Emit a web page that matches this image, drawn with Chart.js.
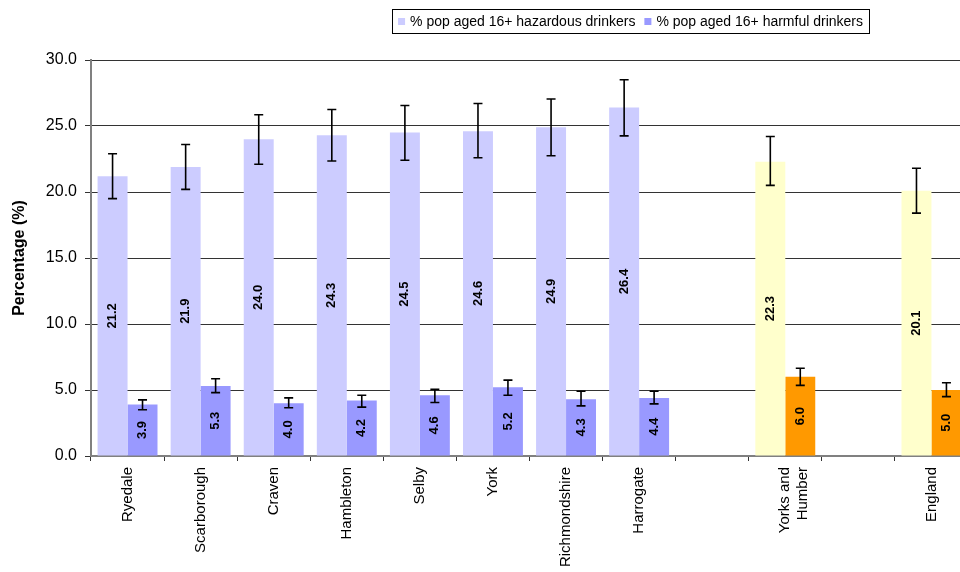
<!DOCTYPE html>
<html>
<head>
<meta charset="utf-8">
<title>Hazardous and harmful drinkers</title>
<script src="https://cdn.jsdelivr.net/npm/chart.js@4/dist/chart.umd.min.js"></script>
<style>
  html, body { margin: 0; padding: 0; background: #fff; overflow: hidden; }
  #wrap { width: 970px; height: 572px; }
</style>
</head>
<body>
<div id="wrap"><canvas id="chart" width="970" height="572"></canvas></div>
<script>
// categories ('' = spacer column)
const categories = ['Ryedale', 'Scarborough', 'Craven', 'Hambleton', 'Selby', 'York',
  'Richmondshire', 'Harrogate', '', ['Yorks and', 'Humber'], '', 'England'];
const comparators = ['Yorks and Humber', 'England'];

const hazardous = [21.2, 21.9, 24.0, 24.3, 24.5, 24.6, 24.9, 26.4, null, 22.3, null, 20.1];
const hazardousLow = [19.5, 20.2, 22.1, 22.35, 22.4, 22.6, 22.75, 24.25, null, 20.5, null, 18.4];
const hazardousHigh = [22.9, 23.6, 25.85, 26.25, 26.55, 26.7, 27.05, 28.5, null, 24.2, null, 21.8];

const harmful = [3.9, 5.3, 4.0, 4.2, 4.6, 5.2, 4.3, 4.4, null, 6.0, null, 5.0];
const harmfulLow = [3.5, 4.8, 3.65, 3.7, 4.05, 4.6, 3.8, 3.95, null, 5.35, null, 4.5];
const harmfulHigh = [4.25, 5.85, 4.4, 4.6, 5.05, 5.75, 4.9, 4.9, null, 6.65, null, 5.55];

const yTicks = [0, 5, 10, 15, 20, 25, 30];

const FONT = '"Liberation Sans", Arial, sans-serif';

const isComparator = (i) => {
  const c = categories[i];
  return comparators.includes(Array.isArray(c) ? c.join(' ') : c);
};

// error bars drawn from the low/high arrays through the y scale
const errorBars = {
  id: 'errorBars',
  afterDatasetsDraw(chart) {
    const ctx = chart.ctx;
    const y = chart.scales.y;
    chart.data.datasets.forEach((ds, di) => {
      const meta = chart.getDatasetMeta(di);
      meta.data.forEach((bar, i) => {
        if (ds.data[i] == null) return;
        const top = y.getPixelForValue(ds.errHigh[i]);
        const bot = y.getPixelForValue(ds.errLow[i]);
        ctx.save();
        ctx.strokeStyle = '#000';
        ctx.lineWidth = 1.6;
        ctx.beginPath();
        ctx.moveTo(bar.x, top); ctx.lineTo(bar.x, bot);
        ctx.moveTo(bar.x - 4.5, top); ctx.lineTo(bar.x + 4.5, top);
        ctx.moveTo(bar.x - 4.5, bot); ctx.lineTo(bar.x + 4.5, bot);
        ctx.stroke();
        ctx.restore();
      });
    });
  }
};

// rotated value labels in the middle of each bar
const valueLabels = {
  id: 'valueLabels',
  afterDatasetsDraw(chart) {
    const ctx = chart.ctx;
    chart.data.datasets.forEach((ds, di) => {
      const meta = chart.getDatasetMeta(di);
      meta.data.forEach((bar, i) => {
        const v = ds.data[i];
        if (v == null) return;
        ctx.save();
        ctx.translate(bar.x, (bar.y + bar.base) / 2);
        ctx.rotate(-Math.PI / 2);
        ctx.font = 'bold 13px ' + FONT;
        ctx.fillStyle = '#000';
        ctx.textAlign = 'center';
        ctx.textBaseline = 'middle';
        ctx.fillText(v.toFixed(1), 0, 0);
        ctx.restore();
      });
    });
  }
};

// boxed legend at the top right
const boxLegend = {
  id: 'boxLegend',
  afterDraw(chart) {
    const ctx = chart.ctx;
    ctx.save();
    ctx.font = '14px ' + FONT;
    const items = chart.data.datasets.map(ds => ({ text: ds.label, color: ds.legendColor }));
    const sq = 7, padL = 6, gapSq = 5, gapItem = 9, padR = 6;
    let w = padL + padR;
    items.forEach((it, k) => {
      w += sq + gapSq + ctx.measureText(it.text).width + (k ? gapItem : 0);
    });
    const right = 869, top = 9, h = 24;
    const left = right - w;
    ctx.strokeStyle = '#000';
    ctx.lineWidth = 1;
    ctx.strokeRect(Math.round(left) + 0.5, top + 0.5, Math.round(w), h);
    let x = left + padL;
    const cy = top + h / 2 + 0.5;
    items.forEach((it, k) => {
      if (k) x += gapItem;
      ctx.fillStyle = it.color;
      ctx.fillRect(x, cy - sq / 2, sq, sq);
      x += sq + gapSq;
      ctx.fillStyle = '#000';
      ctx.textBaseline = 'middle';
      ctx.fillText(it.text, x, cy + 1);
      x += ctx.measureText(it.text).width;
    });
    ctx.restore();
  }
};

new Chart(document.getElementById('chart'), {
  type: 'bar',
  data: {
    labels: categories,
    datasets: [
      {
        label: '% pop aged 16+ hazardous drinkers',
        data: hazardous,
        errLow: hazardousLow,
        errHigh: hazardousHigh,
        legendColor: '#CCCCFF',
        backgroundColor: (c) => isComparator(c.dataIndex) ? '#FFFFCC' : '#CCCCFF'
      },
      {
        label: '% pop aged 16+ harmful drinkers',
        data: harmful,
        errLow: harmfulLow,
        errHigh: harmfulHigh,
        legendColor: '#9999FF',
        backgroundColor: (c) => isComparator(c.dataIndex) ? '#FF9900' : '#9999FF'
      }
    ]
  },
  options: {
    responsive: false,
    animation: false,
    devicePixelRatio: 1,
    layout: { padding: { top: 60, left: 0, right: 2, bottom: 0 } },
    datasets: { bar: { categoryPercentage: 0.82, barPercentage: 1.0, borderWidth: 0 } },
    plugins: { legend: { display: false }, tooltip: { enabled: false } },
    scales: {
      x: {
        grid: { offset: true, drawOnChartArea: false, tickLength: 5, color: '#333' },
        border: { color: '#808080', width: 2 },
        ticks: {
          autoSkip: false, minRotation: 90, maxRotation: 90, padding: 6,
          color: '#000', font: { family: FONT, size: 15 }
        },
        afterFit: (s) => { s.height = 116; }
      },
      y: {
        min: 0, max: 30,
        afterBuildTicks: (s) => { s.ticks = yTicks.map(v => ({ value: v })); },
        grid: { color: '#333', tickLength: 6 },
        border: { color: '#808080', width: 2 },
        ticks: {
          padding: 8, color: '#000', font: { family: FONT, size: 16 },
          callback: (v) => Number(v).toFixed(1)
        },
        title: {
          display: true, text: 'Percentage (%)', color: '#000',
          font: { family: FONT, size: 16, weight: 'bold' },
          padding: { top: 10, bottom: 0 }
        },
        afterFit: (s) => { s.width = 91; }
      }
    }
  },
  plugins: [errorBars, valueLabels, boxLegend]
});
</script>
</body>
</html>
